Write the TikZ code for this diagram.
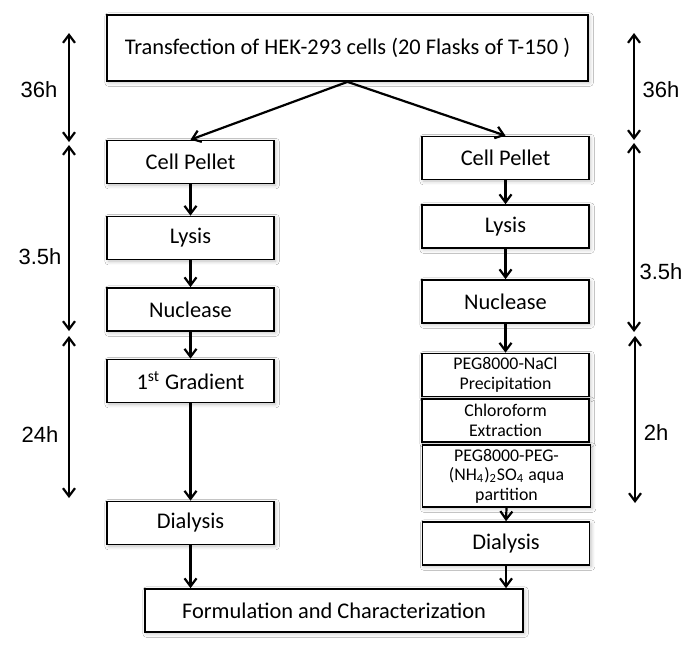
\documentclass[tikz,border=0pt]{standalone}
\usepackage{fontspec}
\setmainfont{Carlito}
\newfontfamily\arialfont{Liberation Sans}
\usetikzlibrary{arrows.meta,positioning,shadows.blur}
\tikzset{
  stepbox/.style={draw=black,line width=0.85pt,fill=white,align=center,inner sep=1pt,
    minimum width=83.5pt,minimum height=21.5pt,font=\fontsize{11.2}{13}\selectfont,
    blur shadow={shadow xshift=0.8pt,shadow yshift=-0.8pt,shadow opacity=25,shadow blur steps=4}},
  smallbox/.style={stepbox,font=\fontsize{8.9}{9.8}\selectfont},
  flow/.style={-{Straight Barb[length=4pt,width=6pt]},line width=1.1pt},
  timespan/.style={{Straight Barb[length=4pt,width=6pt]}-{Straight Barb[length=4pt,width=6pt]},line width=1.1pt},
  timelabel/.style={font=\arialfont\fontsize{11}{13}\selectfont,inner sep=0pt}
}
\begin{document}
\begin{tikzpicture}[x=0.5pt,y=-0.5pt]
  \useasboundingbox[fill=white] (0,0) rectangle (700,649);

  % top box
  \node[stepbox,minimum width=240.5pt,minimum height=33pt]
    (transfect) at (347.5,48) {Transfection of HEK-293 cells (20 Flasks of T-150 )};

  % left column
  \node[stepbox] (lpellet) at (190.5,162) {Cell Pellet};
  \node[stepbox] (llysis) at (190.5,238) {Lysis};
  \node[stepbox] (lnuclease) at (190.5,309.5) {Nuclease};
  \node[stepbox] (lgradient) at (190.5,381) {1\textsuperscript{st} Gradient};
  \node[stepbox] (ldialysis) at (190.5,523) {Dialysis};

  % right column
  \node[stepbox] (rpellet) at (505.5,158) {Cell Pellet};
  \node[stepbox] (rlysis) at (505.5,226.5) {Lysis};
  \node[stepbox] (rnuclease) at (505.5,301.5) {Nuclease};
  \node[smallbox] (rprecip) at (505.5,375) {PEG8000-NaCl\\Precipitation};
  \node[smallbox] (rchloro) at (505.5,420.5) {Chloroform\\Extraction};
  \node[smallbox,minimum width=84pt,minimum height=31pt,inner ysep=0pt] (rpartition) at (506.5,476)
    {PEG8000-PEG-\\(NH\textsubscript{4})\textsubscript{2}SO\textsubscript{4} aqua\\partition};
  \node[stepbox] (rdialysis) at (506,543.5) {Dialysis};

  % bottom box
  \node[stepbox,minimum width=189pt] (formulation) at (334,610.5) {Formulation and Characterization};

  % flow arrows
  \draw[flow] (transfect.south) -- (lpellet.north);
  \draw[flow] (transfect.south) -- (rpellet.north);
  \draw[flow] (lpellet) -- (llysis);
  \draw[flow] (llysis) -- (lnuclease);
  \draw[flow] (lnuclease) -- (lgradient);
  \draw[flow] (lgradient) -- (ldialysis);
  \draw[flow] (ldialysis.south) -- (ldialysis.south |- formulation.north);
  \draw[flow] (rpellet) -- (rlysis);
  \draw[flow] (rlysis) -- (rnuclease);
  \draw[flow] (rnuclease) -- (rprecip);
  \draw[flow] (rpartition.south) -- (rdialysis.north);
  \draw[flow] (rdialysis.south) -- (rdialysis.south |- formulation.north);

  % time spans, left
  \coordinate (la) at (69,33);
  \coordinate (lb) at (69,142);
  \coordinate (lc) at (69,145);
  \coordinate (ld) at (69,331);
  \coordinate (le) at (69,336);
  \coordinate (lf) at (69,498);
  \draw[timespan] (la) -- (lb);
  \draw[timespan] (lc) -- (ld);
  \draw[timespan] (le) -- (lf);
  \node[timelabel] (l36) at (39,90) {36h};
  \node[timelabel] (l35) at (40,257) {3.5h};
  \node[timelabel] (l24) at (40,435) {24h};

  % time spans, right
  \coordinate (ra) at (634,33);
  \coordinate (rb) at (634,140);
  \coordinate (rc) at (634,143);
  \coordinate (rd) at (634,332);
  \coordinate (re) at (635,336);
  \coordinate (rf) at (635,503);
  \draw[timespan] (ra) -- (rb);
  \draw[timespan] (rc) -- (rd);
  \draw[timespan] (re) -- (rf);
  \node[timelabel] (r36) at (661,90) {36h};
  \node[timelabel] (r35) at (661,272) {3.5h};
  \node[timelabel] (r2) at (656,433) {2h};
\end{tikzpicture}
\end{document}
